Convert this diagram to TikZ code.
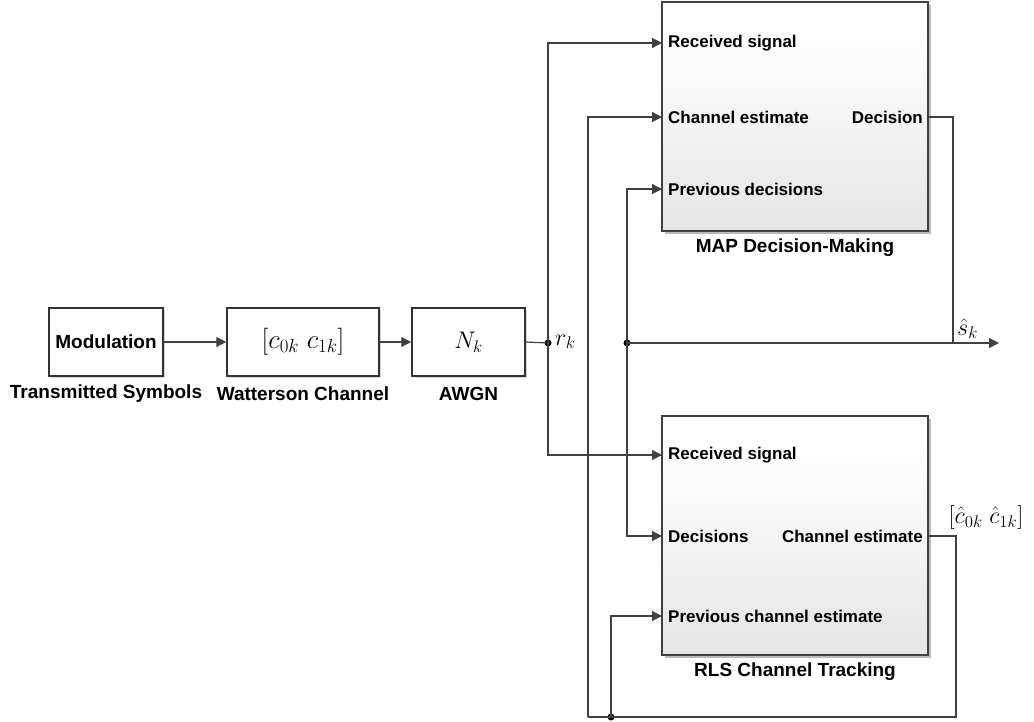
\RequirePackage{fix-cm}
\documentclass[tikz,border=0pt]{standalone}
\usepackage{fontspec}
\setmainfont{Liberation Sans}
\usetikzlibrary{arrows.meta,shadows,calc}
\pgfdeclareverticalshading{blockshade}{100bp}{color(0bp)=(black!16); color(30bp)=(black!9); color(68bp)=(white); color(100bp)=(white)}
\tikzset{
  wire/.style={draw=black!75, line width=1.2pt},
  sig/.style={wire, -{Triangle[length=10pt,width=10pt]}},
  smallblock/.style={draw=black!80, line width=1.5pt, fill=white, minimum height=68pt,
    font=\fontsize{19}{22}\selectfont\bfseries,
    drop shadow={shadow xshift=2pt, shadow yshift=-2pt, fill=black!30, opacity=0.5}},
  bigblock/.style={draw=black!75, line width=1.5pt, shading=blockshade, minimum width=266pt,
    drop shadow={shadow xshift=3pt, shadow yshift=-3pt, fill=black!45, opacity=0.6}},
  caption/.style={font=\fontsize{19}{22}\selectfont\bfseries},
  port/.style={font=\fontsize{17}{20}\selectfont\bfseries, inner sep=0pt},
  mathlbl/.style={font=\fontsize{24}{28}\selectfont, inner sep=0pt},
  junction/.style={circle, fill=black, inner sep=0pt, minimum size=7pt},
}
\begin{document}
\begin{tikzpicture}[x=1pt, y=-1pt]
\useasboundingbox (0,0) rectangle (1034,721);

% transmitter chain
\node[smallblock, minimum width=114pt] (mod) at (106,342) {Modulation};
\node[smallblock, minimum width=152pt] (wat) at (303,342) {\fontsize{27}{30}\selectfont\mdseries$[c_{0k}\;c_{1k}]$};
\node[smallblock, minimum width=113pt] (awgn) at (468.5,342) {\fontsize{24}{28}\selectfont\mdseries$N_k$};
\node[caption] (modcap) at (106,394) {Transmitted Symbols};
\node[caption] (watcap) at (303,394) {Watterson Channel};
\node[caption] (awgncap) at (468.5,394) {AWGN};

% receiver blocks
\node[bigblock, minimum height=229pt] (map) at (795,116.5) {};
\node[bigblock, minimum height=239pt] (rls) at (795,535.5) {};
\node[caption] (mapcap) at (795,248) {MAP Decision-Making};
\node[caption] (rlscap) at (795,672) {RLS Channel Tracking};

% port coordinates
\coordinate (mapRS) at (662,43);
\coordinate (mapCE) at (662,117);
\coordinate (mapPD) at (662,189);
\coordinate (mapOut) at (928,117);
\coordinate (rlsRS) at (662,455);
\coordinate (rlsDec) at (662,536);
\coordinate (rlsPCE) at (662,616);
\coordinate (rlsOut) at (928,536);

% port labels
\node[port, anchor=west] (lmapRS) at (668,43) {Received signal};
\node[port, anchor=west] (lmapCE) at (668,117) {Channel estimate};
\node[port, anchor=west] (lmapPD) at (668,189) {Previous decisions};
\node[port, anchor=east] (lmapOut) at (923,117) {Decision};
\node[port, anchor=west] (lrlsRS) at (668,455) {Received signal};
\node[port, anchor=west] (lrlsDec) at (668,536) {Decisions};
\node[port, anchor=west] (lrlsPCE) at (668,616) {Previous channel estimate};
\node[port, anchor=east] (lrlsOut) at (923,536) {Channel estimate};

% junctions and bends
\node[junction] (rk) at (548,343) {};
\node[junction] (dj) at (627,343) {};
\node[junction] (cj) at (611,717) {};
\coordinate (sj) at (953,343);
\coordinate (out) at (999,343);
\coordinate (ceR) at (956,536);
\coordinate (ceB) at (956,717);
\coordinate (ceL) at (588,717);

% forward path
\draw[sig] (mod.east) -- (wat.west);
\draw[sig] (wat.east) -- (awgn.west);
\draw[wire] (awgn.east) -- (rk.center);
\node[mathlbl, anchor=west] (rklbl) at (555,342) {$r_k$};

% received signal to both blocks
\draw[sig] (rk.center) |- (mapRS);
\draw[sig] (rk.center) |- (rlsRS);

% decision output
\draw[wire] (mapOut) -| (sj);
\draw[sig] (sj) -- (out);
\node[mathlbl, anchor=south west] (sklbl) at (957,339) {$\hat{s}_k$};
\draw[wire] (sj) -- (dj.center);
\draw[sig] (dj.center) |- (mapPD);
\draw[sig] (dj.center) |- (rlsDec);

% channel estimate feedback
\draw[wire] (rlsOut) -- (ceR) -- (ceB) -- (ceL);
\draw[sig] (ceL) |- (mapCE);
\draw[sig] (cj.center) |- (rlsPCE);
\node[mathlbl, anchor=south] (celbl) at (986,530) {$[\hat{c}_{0k}\;\hat{c}_{1k}]$};
\end{tikzpicture}
\end{document}
